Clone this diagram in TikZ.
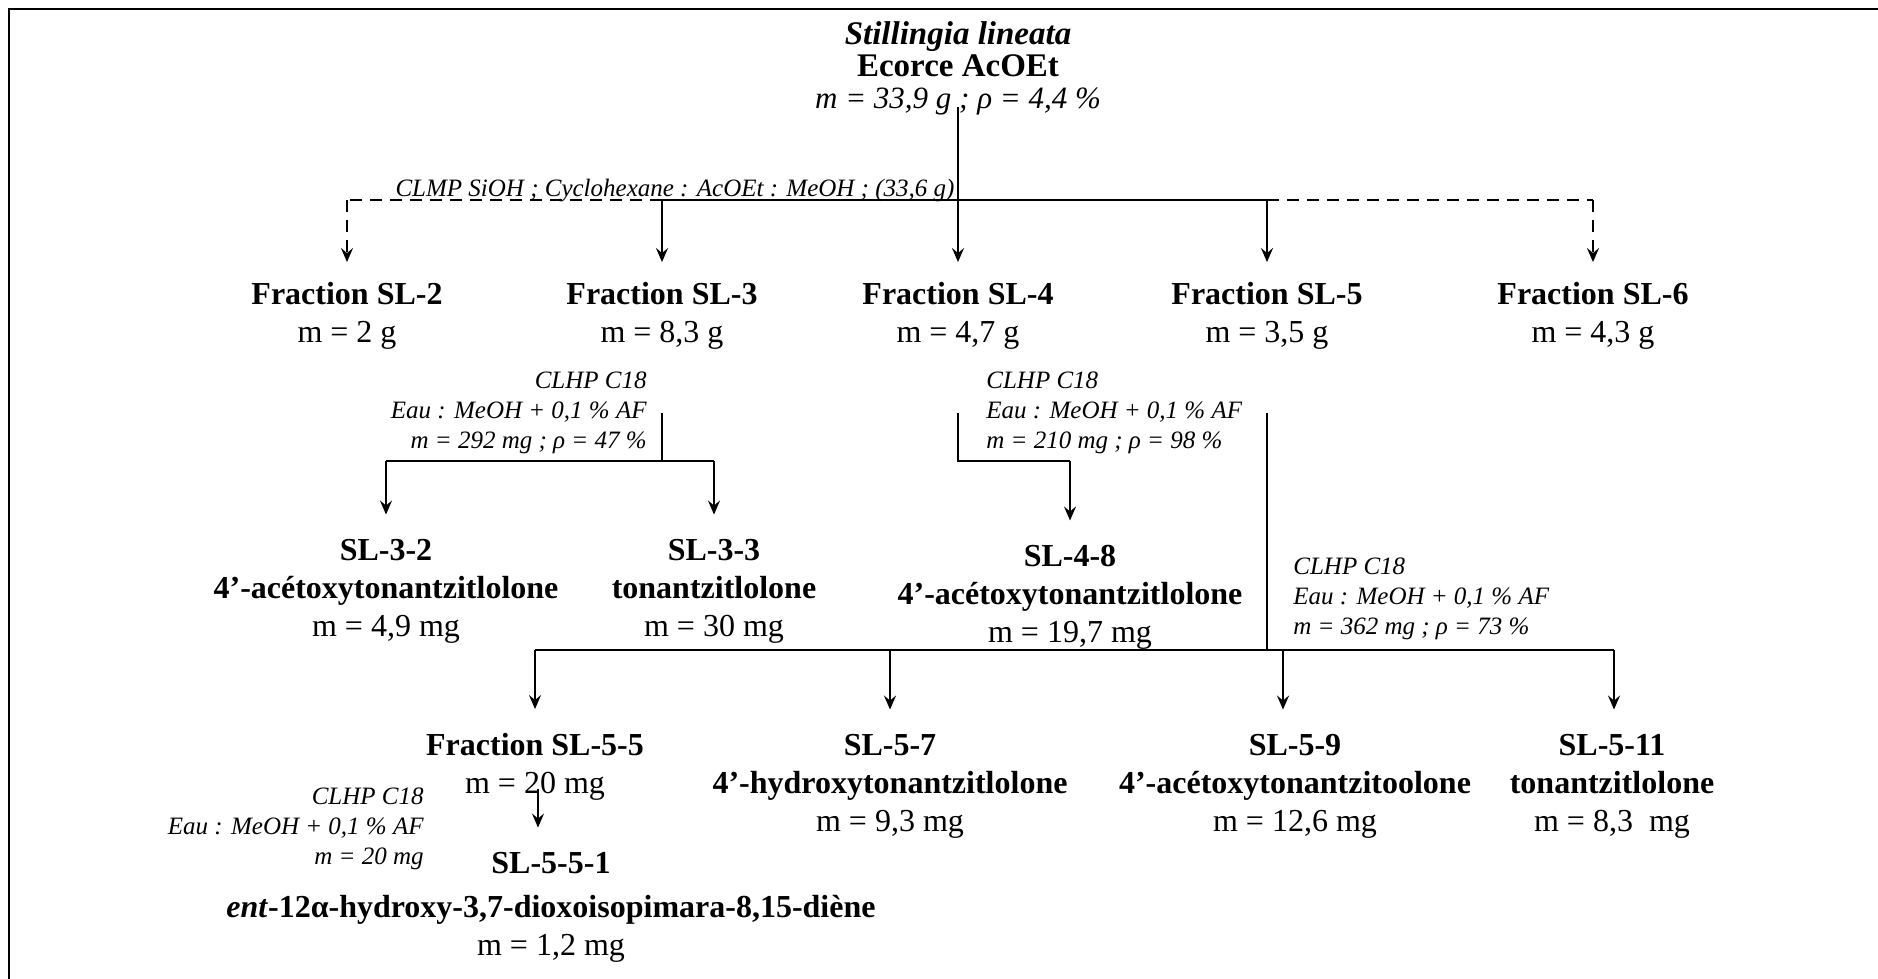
\documentclass[tikz,border=0pt]{standalone}
\usepackage{fontspec}
\setmainfont{Liberation Serif}
\usetikzlibrary{arrows.meta}
\begin{document}
\begin{tikzpicture}[x=0.5pt,y=-0.5pt,
  ar/.style={-{Stealth[length=7pt,width=6pt,inset=2.5pt]}, line width=0.9pt},
  ln/.style={line width=1.2pt},
  dsh/.style={dash pattern=on 6pt off 4pt, line width=1pt},
  bx/.style={align=center, inner sep=0pt, font=\fontsize{16}{19}\selectfont},
  lab/.style={inner sep=0pt, font=\fontsize{12.5}{15}\selectfont\itshape},
]
\useasboundingbox (0,0) rectangle (1878,979);
\draw[line width=1.2pt] (9,979) -- (9,9) -- (1878,9);

% title
\node[align=center, inner sep=0pt, font=\fontsize{16.5}{16}\selectfont] (t) at (958,68)
  {{\bfseries\itshape Stillingia lineata}\\{\bfseries Ecorce AcOEt}\\{\fontsize{15.5}{16}\selectfont\itshape m = 33,9 g ; ρ = 4,4 \%}};

% fractions
\node[bx] (f2) at (347,316) {\textbf{Fraction SL-2}\\m = 2 g};
\node[bx] (f3) at (662,316) {\textbf{Fraction SL-3}\\m = 8,3 g};
\node[bx] (f4) at (958,316) {\textbf{Fraction SL-4}\\m = 4,7 g};
\node[bx] (f5) at (1267,316) {\textbf{Fraction SL-5}\\m = 3,5 g};
\node[bx] (f6) at (1593,316) {\textbf{Fraction SL-6}\\m = 4,3 g};

\coordinate (j1) at (958,200);
\node[lab, anchor=base] (clmp) at (675,196) {CLMP SiOH ; Cyclohexane : AcOEt : MeOH ; (33,6 g)};
\draw[ln] ([yshift=4pt]t.south) -- (j1);
\draw[ln] (j1 -| f3) -- (j1 -| f5);
\draw[dsh] (j1 -| f3) -- (j1 -| f2);
\draw[dsh] (j1 -| f5) -- (j1 -| f6);
\draw[ar] (j1 -| f3) -- ([yshift=10pt]f3.north);
\draw[ar] (j1) -- ([yshift=10pt]f4.north);
\draw[ar] (j1 -| f5) -- ([yshift=10pt]f5.north);
\draw[ar, dash pattern=on 6pt off 4pt] (j1 -| f2) -- ([yshift=10pt]f2.north);
\draw[ar, dash pattern=on 6pt off 4pt] (j1 -| f6) -- ([yshift=10pt]f6.north);

% SL-3 branch
\node[lab, align=right, anchor=east] (c1) at (647,413) {CLHP C18\\Eau : MeOH + 0,1 \% AF\\m = 292 mg ; ρ = 47 \%};
\node[bx] (s32) at (386,591) {\textbf{SL-3-2}\\\textbf{4’-acétoxytonantzitlolone}\\m = 4,9 mg};
\node[bx] (s33) at (714,591) {\textbf{SL-3-3}\\\textbf{tonantzitlolone}\\m = 30 mg};
\coordinate (a3) at (662,413);
\coordinate (b3) at (662,461);
\draw[ln] (a3) -- (b3);
\draw[ln] (b3 -| s32) -- (b3 -| s33);
\draw[ar] (b3 -| s32) -- ([yshift=12pt]s32.north);
\draw[ar] (b3 -| s33) -- ([yshift=12pt]s33.north);

% SL-4 branch
\node[lab, align=left, anchor=west] (c2) at (986,413) {CLHP C18\\Eau : MeOH + 0,1 \% AF\\m = 210 mg ; ρ = 98 \%};
\node[bx] (s48) at (1070,597) {\textbf{SL-4-8}\\\textbf{4’-acétoxytonantzitlolone}\\m = 19,7 mg};
\coordinate (a4) at (958,413);
\coordinate (b4) at (958,461);
\draw[ln] (a4) -- (b4) -- (b4 -| s48);
\draw[ar] (b4 -| s48) -- ([yshift=12pt]s48.north);

% SL-5 branch
\node[lab, align=left, anchor=west] (c3) at (1293,599) {CLHP C18\\Eau : MeOH + 0,1 \% AF\\m = 362 mg ; ρ = 73 \%};
\coordinate (a5) at (1267,413);
\coordinate (b5) at (1267,650);
\node[bx] (s55) at (535,767) {\textbf{Fraction SL-5-5}\\m = 20 mg};
\node[bx] (s57) at (890,786) {\textbf{SL-5-7}\\\textbf{4’-hydroxytonantzitlolone}\\m = 9,3 mg};
\node[bx] (s59) at (1295,786) {\textbf{SL-5-9}\\\textbf{4’-acétoxytonantzitoolone}\\m = 12,6 mg};
\node[bx] (s511) at (1612,786) {\textbf{SL-5-11}\\\textbf{tonantzitlolone}\\m = 8,3\ \ mg};
\draw[ln] (a5) -- (b5);
\draw[ln] (b5 -| s55) -- (1614,650);
\draw[ar] (b5 -| s55) -- ([yshift=12pt]s55.north);
\draw[ar] (890,650) -- ([yshift=12pt]s57.north);
\draw[ar] (1283,650) -- ([yshift=12pt]s57.north -| 1283,0);
\draw[ar] (1614,650) -- ([yshift=12pt]s511.north -| 1614,0);

% SL-5-5 branch
\node[lab, align=right, anchor=east] (c4) at (424,829) {CLHP C18\\Eau : MeOH + 0,1 \% AF\\m = 20 mg};
\node[bx] (s551) at (551,907) {\textbf{SL-5-5-1}\\[3pt]\textbf{\textit{ent}-12α-hydroxy-3,7-dioxoisopimara-8,15-diène}\\m = 1,2 mg};
\draw[ar] ([xshift=1.5pt,yshift=6pt]s55.south) -- ([xshift=1.5pt,yshift=12pt]s551.north -| s55.south);
\end{tikzpicture}
\end{document}
